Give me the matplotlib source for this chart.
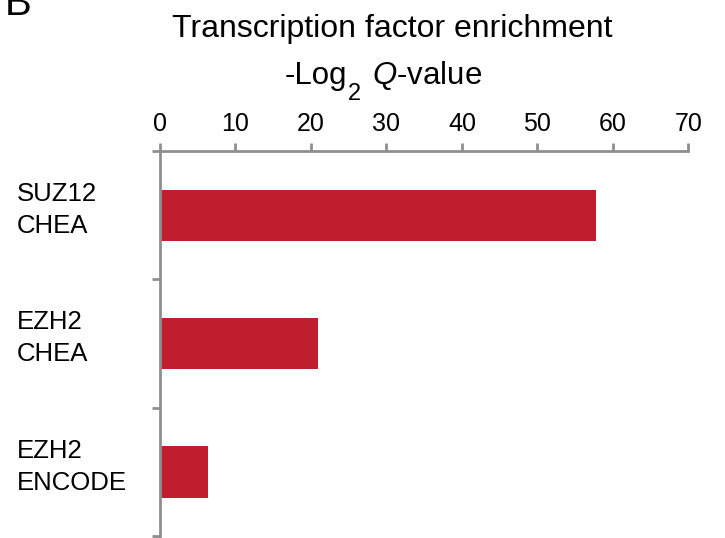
import matplotlib
matplotlib.use("Agg")
import matplotlib.pyplot as plt
from matplotlib.transforms import blended_transform_factory

plt.rcParams['font.family'] = ['Liberation Sans', 'DejaVu Sans']
plt.rcParams['mathtext.fontset'] = 'custom'
plt.rcParams['mathtext.rm'] = 'Liberation Sans'
plt.rcParams['mathtext.it'] = 'Liberation Sans:italic'

categories = ["SUZ12\nCHEA", "EZH2\nCHEA", "EZH2\nENCODE"]
values = [57.8, 20.9, 6.4]
xticks = [0, 10, 20, 30, 40, 50, 60, 70]

bar_color = '#BF1E2E'
axis_color = '#8f8f8f'

fig = plt.figure(figsize=(7.25, 5.38), dpi=100)
W, H = 725, 538
ax = fig.add_axes([160 / W, 1 - 536 / H, (688.3 - 160) / W, (536 - 151) / H])

ypos = list(range(len(categories)))
ax.barh(ypos, values, height=0.4, color=bar_color, edgecolor='none')
ax.set_xlim(0, 70)
ax.set_ylim(len(categories) - 0.5, -0.5)

ax.xaxis.tick_top()
ax.set_xticks(xticks)
ax.set_xticklabels([str(t) for t in xticks], fontsize=18)
ax.tick_params(axis='x', direction='out', length=6, width=2, color=axis_color, pad=5)

bounds = [i - 0.5 for i in range(len(categories) + 1)]
ax.set_yticks(bounds)
ax.set_yticklabels([])
ax.tick_params(axis='y', direction='out', length=6, width=2, color=axis_color)

for s in ['right', 'bottom']:
    ax.spines[s].set_visible(False)
for s in ['left', 'top']:
    ax.spines[s].set_color(axis_color)
    ax.spines[s].set_linewidth(2)

trans = blended_transform_factory(fig.transFigure, ax.transData)
for y, lab in zip(ypos, categories):
    ax.text(17 / W, y - 0.04, lab, transform=trans, ha='left', va='center',
            fontsize=18.5, linespacing=1.43)

fig.text(392 / W, 1 - 37 / H, "Transcription factor enrichment", ha='center',
         va='baseline', fontsize=23)
# axis label "-Log2 Q-value" with a dropped subscript
fig.text(285 / W, 1 - 84 / H, "-Log", ha='left', va='baseline', fontsize=22.5)
fig.text(348 / W, 1 - 100.5 / H, "2", ha='left', va='baseline', fontsize=17)
fig.text(372 / W, 1 - 84 / H, r"$Q$-value", ha='left', va='baseline', fontsize=22.5)
fig.text(5 / W, 1 - 15 / H, "B", ha='left', va='baseline', fontsize=29)

fig.savefig("out.png", dpi=100)
